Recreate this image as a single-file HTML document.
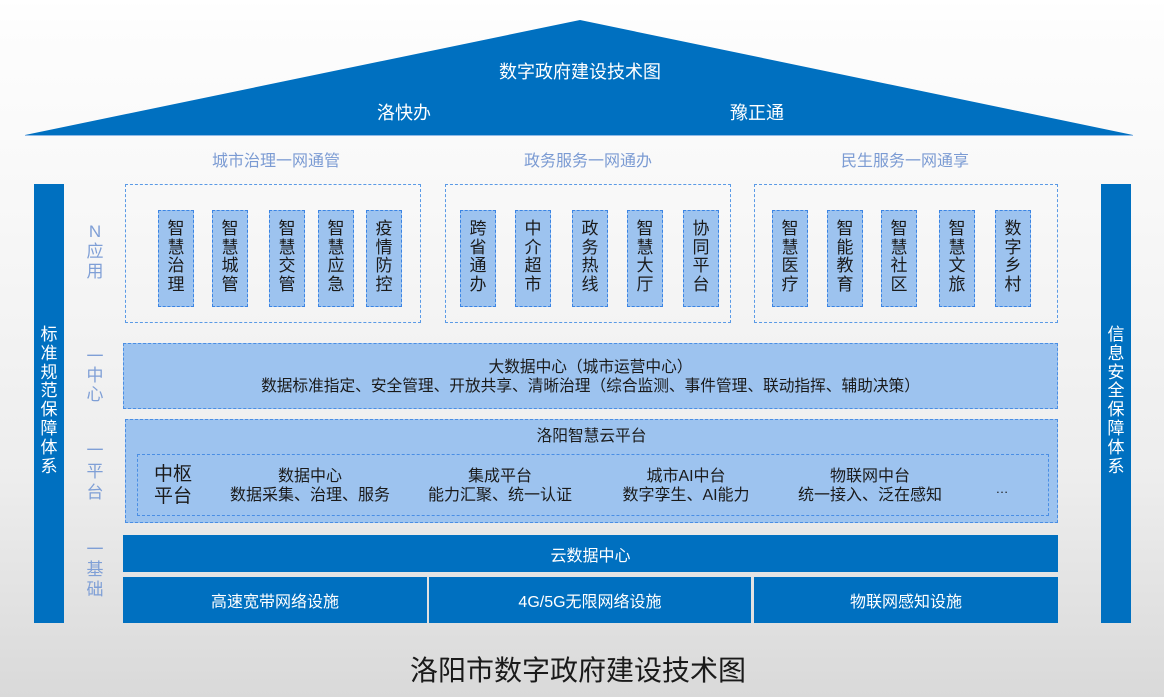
<!DOCTYPE html>
<html><head><meta charset="utf-8">
<style>
*{margin:0;padding:0;box-sizing:border-box}
html,body{width:1164px;height:697px;overflow:hidden}
body{position:relative;font-family:"Liberation Sans","Noto Sans CJK SC",sans-serif;background:linear-gradient(#ffffff 0px,#fdfdfd 25px,#f8f8f8 200px,#ededed 480px,#d9d9d9 697px);}
.a{position:absolute}
.c{text-align:center;white-space:nowrap}
.bar{background:#0070c0;color:#fff}
.vt{font-size:17px;line-height:18.8px;text-align:center;color:#fff}
.lbl{color:#7f9fd6;font-size:17px;line-height:20px;text-align:center;width:30px;left:80px}
.head{color:#7b9bd3;font-size:16px;top:152px;line-height:20px}
.app{border:1px dashed #5a9ae6;top:184px;height:139px}
.it{border:1px dashed #3a84e4;background:#9dc3ef;top:210px;height:97px;width:36px;font-size:17px;line-height:18.6px;color:#1a1a1a;text-align:center;padding-top:9px}
.lb{background:#9dc3ef;border:1px dashed #4a8ee4}
.t16{font-size:16px;line-height:19px;color:#1a1a1a}
.foot{background:#0070c0;color:#fff;font-size:16px;display:flex;align-items:center;justify-content:center}
</style></head><body>

<svg class="a" style="left:0;top:0" width="1164" height="140">
<polygon points="25,135 580,20 1133,135" fill="#0070c0"/>
<line x1="25" y1="135.5" x2="1133" y2="135.5" stroke="#8fb9e6" stroke-width="1"/>
</svg>
<div class="a c" style="left:380px;width:400px;top:61px;color:#fff;font-size:18px;line-height:22px">数字政府建设技术图</div>
<div class="a c" style="left:354px;width:100px;top:102px;color:#fff;font-size:18px;line-height:22px">洛快办</div>
<div class="a c" style="left:707px;width:100px;top:102px;color:#fff;font-size:18px;line-height:22px">豫正通</div>

<div class="a c head" style="left:176px;width:200px">城市治理一网通管</div>
<div class="a c head" style="left:488px;width:200px">政务服务一网通办</div>
<div class="a c head" style="left:805px;width:200px">民生服务一网通享</div>

<!-- side bars -->
<div class="a bar" style="left:34px;top:184px;width:30px;height:439px"></div>
<div class="a vt" style="left:34px;top:326px;width:30px">标<br>准<br>规<br>范<br>保<br>障<br>体<br>系</div>
<div class="a bar" style="left:1101px;top:184px;width:30px;height:439px"></div>
<div class="a vt" style="left:1101px;top:326px;width:30px">信<br>息<br>安<br>全<br>保<br>障<br>体<br>系</div>

<!-- left labels -->
<div class="a lbl" style="top:222px">N<br>应<br>用</div>
<div class="a lbl" style="top:347px;line-height:19px">一<br>中<br>心</div>
<div class="a lbl" style="top:440px;line-height:21px">一<br>平<br>台</div>
<div class="a lbl" style="top:540px;line-height:20px">一<br>基<br>础</div>

<!-- app boxes -->
<div class="a app" style="left:125px;width:296px"></div>
<div class="a app" style="left:445px;width:286px"></div>
<div class="a app" style="left:754px;width:304px"></div>

<div class="a it" style="left:158px">智<br>慧<br>治<br>理</div>
<div class="a it" style="left:212px">智<br>慧<br>城<br>管</div>
<div class="a it" style="left:269px">智<br>慧<br>交<br>管</div>
<div class="a it" style="left:318px">智<br>慧<br>应<br>急</div>
<div class="a it" style="left:366px">疫<br>情<br>防<br>控</div>

<div class="a it" style="left:460px">跨<br>省<br>通<br>办</div>
<div class="a it" style="left:515px">中<br>介<br>超<br>市</div>
<div class="a it" style="left:572px">政<br>务<br>热<br>线</div>
<div class="a it" style="left:627px">智<br>慧<br>大<br>厅</div>
<div class="a it" style="left:683px">协<br>同<br>平<br>台</div>

<div class="a it" style="left:772px">智<br>慧<br>医<br>疗</div>
<div class="a it" style="left:827px">智<br>能<br>教<br>育</div>
<div class="a it" style="left:881px">智<br>慧<br>社<br>区</div>
<div class="a it" style="left:939px">智<br>慧<br>文<br>旅</div>
<div class="a it" style="left:995px">数<br>字<br>乡<br>村</div>

<!-- 一中心 -->
<div class="a lb" style="left:123px;top:343px;width:935px;height:66px"></div>
<div class="a c t16" style="left:123px;width:935px;top:358px;font-size:15.7px">大数据中心（城市运营中心）</div>
<div class="a c t16" style="left:123px;width:935px;top:377px;font-size:15.7px">数据标准指定、安全管理、开放共享、清晰治理（综合监测、事件管理、联动指挥、辅助决策）</div>

<!-- 一平台 -->
<div class="a lb" style="left:125px;top:419px;width:933px;height:104px"></div>
<div class="a c t16" style="left:125px;width:933px;top:427px;font-size:15.7px">洛阳智慧云平台</div>
<div class="a" style="left:137px;top:454px;width:912px;height:62px;border:1px dashed #4a8ee4"></div>
<div class="a t16" style="left:154px;top:464px;font-size:19px;line-height:22px">中枢<br>平台</div>
<div class="a c t16" style="left:210px;width:200px;top:467px">数据中心<br>数据采集、治理、服务</div>
<div class="a c t16" style="left:400px;width:200px;top:467px">集成平台<br>能力汇聚、统一认证</div>
<div class="a c t16" style="left:586px;width:200px;top:467px">城市AI中台<br>数字孪生、AI能力</div>
<div class="a c t16" style="left:770px;width:200px;top:467px">物联网中台<br>统一接入、泛在感知</div>
<div class="a c t16" style="left:982px;width:40px;top:479px;font-size:13px">…</div>

<!-- 一基础 -->
<div class="a foot" style="left:123px;top:535px;width:935px;height:37px">云数据中心</div>
<div class="a foot" style="left:123px;top:577px;width:304px;height:46px">高速宽带网络设施</div>
<div class="a foot" style="left:429px;top:577px;width:322px;height:46px">4G/5G无限网络设施</div>
<div class="a foot" style="left:754px;top:577px;width:304px;height:46px">物联网感知设施</div>

<div class="a c" style="left:378px;width:400px;top:653px;font-size:28px;line-height:36px;color:#1a1a1a">洛阳市数字政府建设技术图</div>

</body></html>
